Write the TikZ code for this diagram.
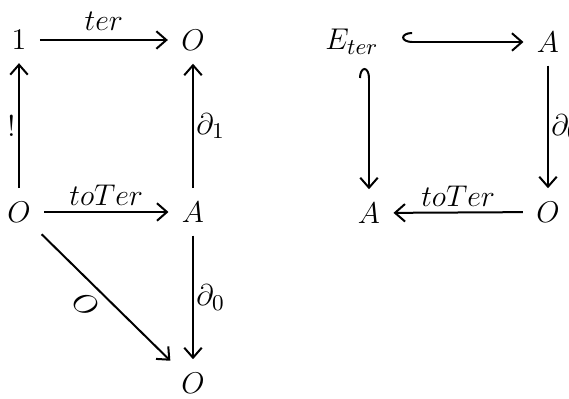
\documentclass[tikz,border=0pt]{standalone}
\usetikzlibrary{arrows.meta}
\usepackage{amsmath}

\begin{document}
\begin{tikzpicture}[x=0.4pt,y=-0.4pt,line width=0.8pt,
  >={Straight Barb[length=4pt,width=7pt]},
  every node/.style={font=\fontsize{13}{15}\selectfont},
  obj/.style={inner sep=3pt},
  map/.style={->,shorten >=2pt,shorten <=2pt},
  incl/.style={{Hooks[right,length=4pt,width=8pt]}->,shorten >=2pt,shorten <=2pt},
  inclv/.style={{Hooks[left,length=4pt,width=8pt]}->,shorten >=2pt,shorten <=2pt}]
\useasboundingbox (0,0) rectangle (569,399);
% ================= left diagram =================
\node[obj] (one) at (19,40) {$1$};
\node[obj] (Otop) at (193,40) {$O$};
\node[obj] (Oleft) at (19,212) {$O$};
\node[obj] (Amid) at (193,212) {$A$};
\node[obj] (Obot) at (193,383) {$O$};
% arrows of the square
\draw[map] (one) -- node[above] {$ter$} (Otop);
\draw[map] (Oleft) -- node[left,inner sep=1pt] {$!$} (one);
\draw[map] (Amid) -- node[right,inner sep=1pt] {$\partial_1$} (Otop);
\draw[map] (Oleft) -- node[above,inner sep=2pt] {$toTer$} (Amid);
% lower triangle
\draw[map] (Amid) -- node[right,inner sep=1pt] {$\partial_0$} (Obot);
\draw[map] (Oleft) -- node[sloped,below,pos=0.45] {$O$} (Obot);
% ================= right diagram =================
\node[obj] (Eter) at (352,42) {$E_{ter}$};
\node[obj] (Aright) at (548,42) {$A$};
\node[obj] (Aleft) at (369,213) {$A$};
\node[obj] (Oright) at (548,212) {$O$};
% inclusions and boundary
\draw[incl,shorten <=6pt] (Eter) -- (Aright);
\draw[inclv] (Eter.south -| Aleft) -- (Aleft);
\draw[map] (Aright) -- node[right,inner sep=1pt] {$\partial_0$} (Oright);
\draw[map] (Oright) -- node[above,inner sep=2pt] {$toTer$} (Aleft);
\end{tikzpicture}
\end{document}
